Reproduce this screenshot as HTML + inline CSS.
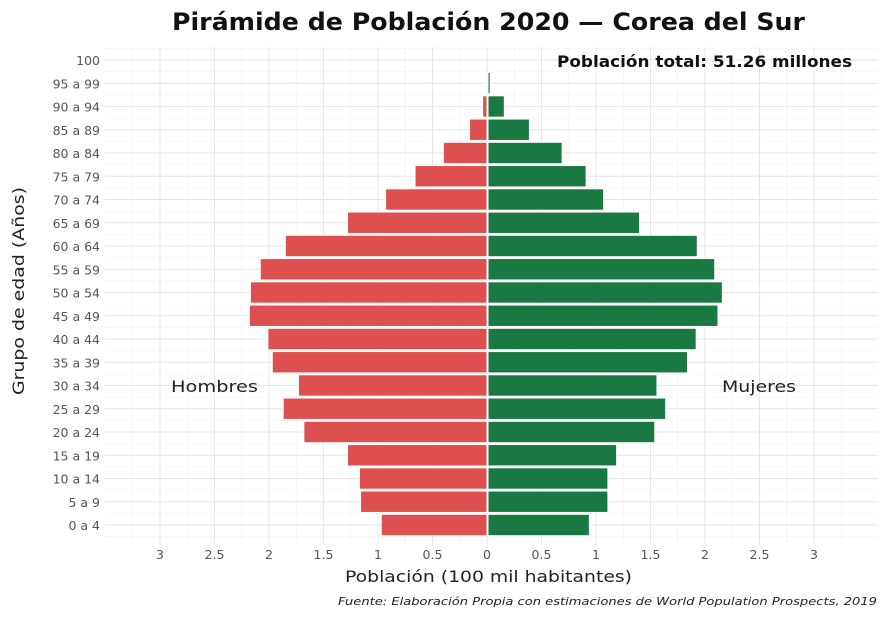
<!DOCTYPE html>
<html><head><meta charset="utf-8"><style>
body{margin:0;background:#fff;}
svg{display:block;font-family:"DejaVu Sans","Liberation Sans",sans-serif;}
</style></head><body>
<svg id="c" width="888" height="619">
<rect x="0" y="0" width="888" height="619" fill="#fff"/>
<g id="grid"></g><g id="bars"></g><g id="axes"></g>
<text x="172" y="30" font-size="24" font-weight="bold" fill="#111" textLength="633" lengthAdjust="spacingAndGlyphs">Pirámide de Población 2020 — Corea del Sur</text>
<text x="557" y="67" font-size="16" font-weight="bold" fill="#111" textLength="295" lengthAdjust="spacingAndGlyphs">Población total: 51.26 millones</text>
<text x="171" y="392" font-size="16" fill="#222" textLength="87" lengthAdjust="spacingAndGlyphs">Hombres</text>
<text x="722" y="392" font-size="16" fill="#222" textLength="74" lengthAdjust="spacingAndGlyphs">Mujeres</text>
<text x="345" y="582" font-size="16" fill="#222" textLength="287" lengthAdjust="spacingAndGlyphs">Población (100 mil habitantes)</text>
<text transform="translate(24,395) rotate(-90)" font-size="16" fill="#222" textLength="208" lengthAdjust="spacingAndGlyphs">Grupo de edad (Años)</text>
<text x="338" y="605" font-size="11" font-style="italic" fill="#222" textLength="539" lengthAdjust="spacingAndGlyphs">Fuente: Elaboración Propia con estimaciones de World Population Prospects, 2019</text>
</svg>
<script>
const ageGroups=["0 a 4","5 a 9","10 a 14","15 a 19","20 a 24","25 a 29","30 a 34","35 a 39","40 a 44","45 a 49","50 a 54","55 a 59","60 a 64","65 a 69","70 a 74","75 a 79","80 a 84","85 a 89","90 a 94","95 a 99","100"];
const menValues=[0.97,1.16,1.17,1.28,1.68,1.87,1.73,1.97,2.01,2.18,2.17,2.08,1.85,1.28,0.93,0.66,0.40,0.16,0.04,0.01,0];
const womenValues=[0.93,1.10,1.10,1.18,1.53,1.63,1.55,1.83,1.91,2.11,2.15,2.08,1.92,1.39,1.06,0.90,0.68,0.38,0.15,0.02,0];
const xTicks=[-3,-2.5,-2,-1.5,-1,-0.5,0,0.5,1,1.5,2,2.5,3];
const xTickLabels=["3","2.5","2","1.5","1","0.5","0","0.5","1","1.5","2","2.5","3"];
const NS="http://www.w3.org/2000/svg";
const panel={l:105,r:878,t:47,b:545};
const x0=487,pxPerUnit=109;
const xs=v=>x0+v*pxPerUnit;
const rowStep=23.25;
const ys=i=>525-i*rowStep;
function mk(t,a,p){const e=document.createElementNS(NS,t);for(const k in a)e.setAttribute(k,a[k]);p.appendChild(e);return e;}
const grid=document.getElementById('grid'),bars=document.getElementById('bars'),axes=document.getElementById('axes');
for(let v=-3.25;v<=3.5;v+=0.5){const g=mk('line',{x1:xs(v),x2:xs(v),y1:panel.t,y2:panel.b,stroke:'#f0f0f0','stroke-width':0.6},grid);
}
for(let i=-0.5;i<ageGroups.length;i++){const g=mk('line',{x1:panel.l,x2:panel.r,y1:ys(i),y2:ys(i),stroke:'#f0f0f0','stroke-width':0.6},grid);
}
xTicks.forEach((v,i)=>{const g=mk('line',{x1:xs(v),x2:xs(v),y1:panel.t,y2:panel.b,stroke:'#e6e6e6','stroke-width':1.1},grid);

const t=mk('text',{x:xs(v),y:559,'text-anchor':'middle','font-size':12.5,fill:'#555'},axes);t.textContent=xTickLabels[i];
});
ageGroups.forEach((a,i)=>{const g=mk('line',{x1:panel.l,x2:panel.r,y1:ys(i),y2:ys(i),stroke:'#e6e6e6','stroke-width':1.1},grid);

const t=mk('text',{x:100,y:ys(i)+5,'text-anchor':'end','font-size':12.5,fill:'#555'},axes);t.textContent=a;

const h=rowStep*0.92;
if(menValues[i]>0){const b=mk('rect',{x:xs(-menValues[i]),y:ys(i)-h/2,width:xs(0)-xs(-menValues[i]),height:h,fill:'#de4f4f',stroke:'#fff','stroke-width':1},bars);
}
if(womenValues[i]>0){const b=mk('rect',{x:xs(0)+1,y:ys(i)-h/2,width:xs(womenValues[i])-xs(0),height:h,fill:'#1a7843',stroke:'#fff','stroke-width':1},bars);
}
});
</script>
</body></html>
